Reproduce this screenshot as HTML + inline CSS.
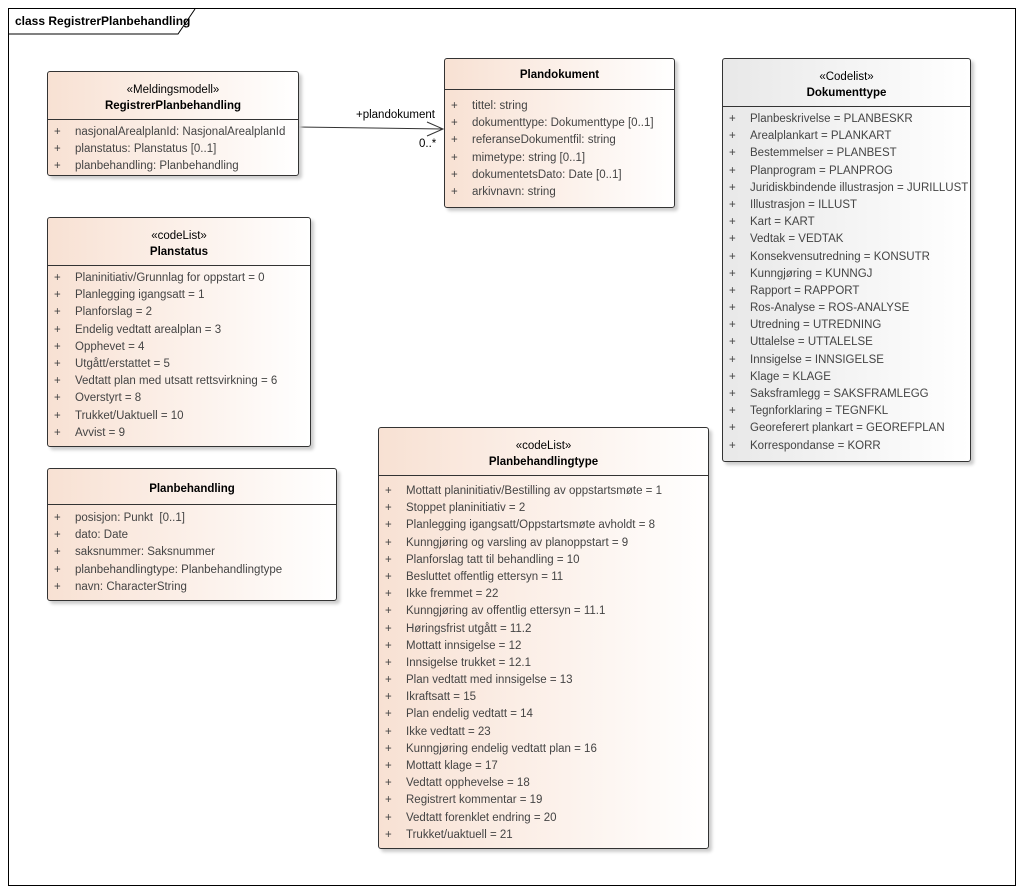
<!DOCTYPE html>
<html><head><meta charset="utf-8"><style>
body{margin:0;width:1023px;height:893px;background:#fff;font-family:"Liberation Sans",sans-serif;position:relative;overflow:hidden}
.frame{position:absolute;left:8px;top:8px;width:1006px;height:876px;border:1px solid #000}
.tab{position:absolute;left:8px;top:8px;width:180px;height:25px;border-right:0;}
.box{position:absolute;border:1px solid #333;border-radius:3px;background:linear-gradient(to right,#f8e1d3,#fff);box-shadow:3px 3px 3px #ccc;font-size:11.5px;color:#333;box-sizing:border-box}
.grey{background:linear-gradient(to right,#e8e8e8,#fff)}
.hd{border-bottom:1px solid #333;text-align:center;box-sizing:border-box;padding-top:10px;line-height:16px;color:#000}
.hd b{display:block;font-size:11.5px}
.rows{padding-top:5px}
.r{height:17.2px;line-height:17.2px;white-space:nowrap;position:relative;padding-left:27px;color:#444}
.r:before{content:"+";position:absolute;left:6px}
</style></head><body>
<div class="frame"></div>
<svg style="position:absolute;left:0;top:0" width="1023" height="893">
<polyline points="9,34 178,34 195,9" fill="none" stroke="#000"/>
<line x1="298" y1="127" x2="443" y2="129" stroke="#333"/>
<polyline points="427,122 443,129 427,136" fill="none" stroke="#333"/>
<text x="356" y="118" font-size="11.5" font-family="Liberation Sans">+plandokument</text>
<text x="419" y="147" font-size="11.5" font-family="Liberation Sans">0..*</text>
<text x="15" y="25" font-size="12" font-weight="bold" font-family="Liberation Sans">class RegistrerPlanbehandling</text>
</svg>

<div class="box" style="left:47px;top:71px;width:252px;height:105px">
<div class="hd" style="height:48px">«Meldingsmodell»<b>RegistrerPlanbehandling</b></div>
<div class="rows" style="padding-top:4px">
<div class="r">nasjonalArealplanId: NasjonalArealplanId</div>
<div class="r">planstatus: Planstatus [0..1]</div>
<div class="r">planbehandling: Planbehandling</div></div></div>

<div class="box" style="left:444px;top:58px;width:231px;height:150px">
<div class="hd" style="height:31px;padding-top:8px"><b>Plandokument</b></div>
<div class="rows" style="padding-top:8px">
<div class="r">tittel: string</div>
<div class="r">dokumenttype: Dokumenttype [0..1]</div>
<div class="r">referanseDokumentfil: string</div>
<div class="r">mimetype: string [0..1]</div>
<div class="r">dokumentetsDato: Date [0..1]</div>
<div class="r">arkivnavn: string</div></div></div>

<div class="box grey" style="left:722px;top:58px;width:249px;height:404px">
<div class="hd" style="height:48px">«Codelist»<b>Dokumenttype</b></div>
<div class="rows" style="padding-top:4px">
<div class="r">Planbeskrivelse = PLANBESKR</div>
<div class="r">Arealplankart = PLANKART</div>
<div class="r">Bestemmelser = PLANBEST</div>
<div class="r">Planprogram = PLANPROG</div>
<div class="r">Juridiskbindende illustrasjon = JURILLUST</div>
<div class="r">Illustrasjon = ILLUST</div>
<div class="r">Kart = KART</div>
<div class="r">Vedtak = VEDTAK</div>
<div class="r">Konsekvensutredning = KONSUTR</div>
<div class="r">Kunngjøring = KUNNGJ</div>
<div class="r">Rapport = RAPPORT</div>
<div class="r">Ros-Analyse = ROS-ANALYSE</div>
<div class="r">Utredning = UTREDNING</div>
<div class="r">Uttalelse = UTTALELSE</div>
<div class="r">Innsigelse = INNSIGELSE</div>
<div class="r">Klage = KLAGE</div>
<div class="r">Saksframlegg = SAKSFRAMLEGG</div>
<div class="r">Tegnforklaring = TEGNFKL</div>
<div class="r">Georeferert plankart = GEOREFPLAN</div>
<div class="r">Korrespondanse = KORR</div></div></div>

<div class="box" style="left:47px;top:217px;width:264px;height:230px">
<div class="hd" style="height:48px">«codeList»<b>Planstatus</b></div>
<div class="rows" style="padding-top:4px">
<div class="r">Planinitiativ/Grunnlag for oppstart = 0</div>
<div class="r">Planlegging igangsatt = 1</div>
<div class="r">Planforslag = 2</div>
<div class="r">Endelig vedtatt arealplan = 3</div>
<div class="r">Opphevet = 4</div>
<div class="r">Utgått/erstattet = 5</div>
<div class="r">Vedtatt plan med utsatt rettsvirkning = 6</div>
<div class="r">Overstyrt = 8</div>
<div class="r">Trukket/Uaktuell = 10</div>
<div class="r">Avvist = 9</div></div></div>

<div class="box" style="left:47px;top:468px;width:290px;height:133px">
<div class="hd" style="height:36px;padding-top:12px"><b>Planbehandling</b></div>
<div class="rows" style="padding-top:5px">
<div class="r">posisjon: Punkt &nbsp;[0..1]</div>
<div class="r">dato: Date</div>
<div class="r">saksnummer: Saksnummer</div>
<div class="r">planbehandlingtype: Planbehandlingtype</div>
<div class="r">navn: CharacterString</div></div></div>

<div class="box" style="left:378px;top:427px;width:331px;height:422px">
<div class="hd" style="height:48px">«codeList»<b>Planbehandlingtype</b></div>
<div class="rows" style="padding-top:7px">
<div class="r">Mottatt planinitiativ/Bestilling av oppstartsmøte = 1</div>
<div class="r">Stoppet planinitiativ = 2</div>
<div class="r">Planlegging igangsatt/Oppstartsmøte avholdt = 8</div>
<div class="r">Kunngjøring og varsling av planoppstart = 9</div>
<div class="r">Planforslag tatt til behandling = 10</div>
<div class="r">Besluttet offentlig ettersyn = 11</div>
<div class="r">Ikke fremmet = 22</div>
<div class="r">Kunngjøring av offentlig ettersyn = 11.1</div>
<div class="r">Høringsfrist utgått = 11.2</div>
<div class="r">Mottatt innsigelse = 12</div>
<div class="r">Innsigelse trukket = 12.1</div>
<div class="r">Plan vedtatt med innsigelse = 13</div>
<div class="r">Ikraftsatt = 15</div>
<div class="r">Plan endelig vedtatt = 14</div>
<div class="r">Ikke vedtatt = 23</div>
<div class="r">Kunngjøring endelig vedtatt plan = 16</div>
<div class="r">Mottatt klage = 17</div>
<div class="r">Vedtatt opphevelse = 18</div>
<div class="r">Registrert kommentar = 19</div>
<div class="r">Vedtatt forenklet endring = 20</div>
<div class="r">Trukket/uaktuell = 21</div></div></div>
</body></html>
